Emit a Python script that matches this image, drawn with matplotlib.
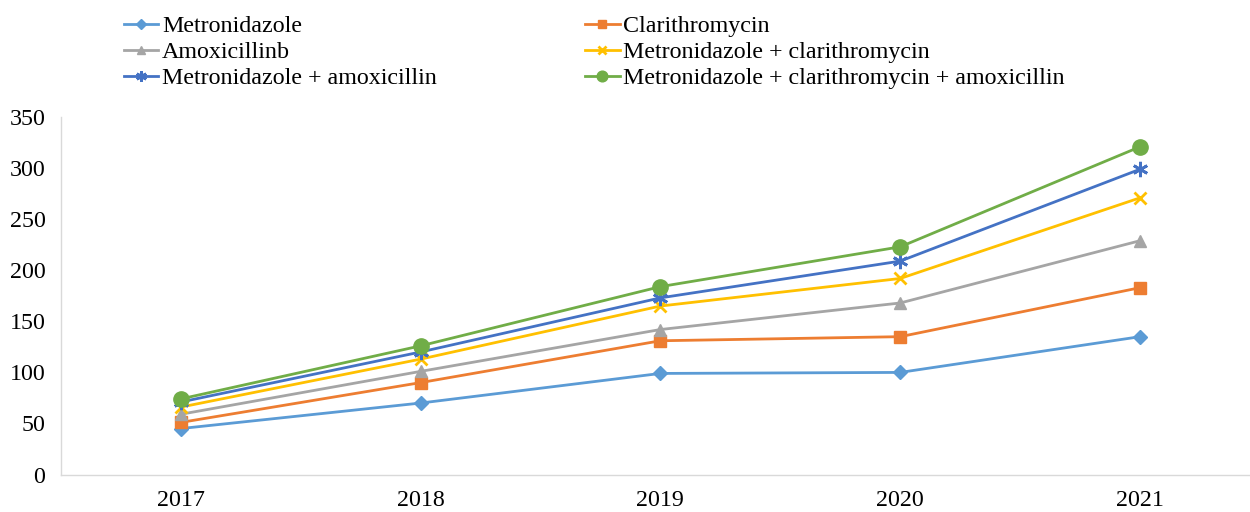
import matplotlib
matplotlib.use("Agg")
import matplotlib.pyplot as plt

years = ["2017", "2018", "2019", "2020", "2021"]
metronidazole = [45, 70, 99, 100, 135]
clarithromycin = [51, 90, 131, 135, 183]
amoxicillin = [59, 101, 142, 168, 229]
metro_clari = [66, 113, 165, 192, 271]
metro_amox = [71, 120, 173, 209, 299]
metro_clari_amox = [74, 126, 184, 223, 321]
yticks = [0, 50, 100, 150, 200, 250, 300, 350]

series = [
    ("Metronidazole", metronidazole, "#5B9BD5", "D", 7),
    ("Clarithromycin", clarithromycin, "#ED7D31", "s", 9),
    ("Amoxicillinb", amoxicillin, "#A5A5A5", "^", 9),
    ("Metronidazole + clarithromycin", metro_clari, "#FFC000", "x", 9),
    ("Metronidazole + amoxicillin", metro_amox, "#4472C4", (6, 2, 0), 11),
    ("Metronidazole + clarithromycin + amoxicillin", metro_clari_amox, "#70AD47", "o", 11),
]

plt.rcParams['font.family'] = ['Liberation Serif', 'DejaVu Serif']
FS = 17.3

fig = plt.figure(figsize=(12.5, 5.12), dpi=100)
ax = fig.add_axes([0.0486, 0.0732, 0.9594, 0.698])
x = list(range(len(years)))
handles = {}
for name, vals, color, marker, ms in series:
    mew = 2.0 if marker in ("x", (6, 2, 0)) else 1.0
    (h,) = ax.plot(x, vals, color=color, lw=2.0, marker=marker, markersize=ms,
                   markeredgewidth=mew, markerfacecolor=color, markeredgecolor=color,
                   label=name)
    handles[name] = h

ax.set_xlim(-0.5, 4.5)
ax.set_ylim(0, 350)
ax.set_xticks(x)
ax.set_xticklabels(years)
ax.set_yticks(yticks)
ax.tick_params(axis='both', length=0, labelsize=FS, colors='black')
ax.tick_params(axis='x', pad=11)
ax.tick_params(axis='y', pad=11)
for s in ["top", "right"]:
    ax.spines[s].set_visible(False)
for s in ["left", "bottom"]:
    ax.spines[s].set_color("#D9D9D9")
    ax.spines[s].set_linewidth(1.0)

order = ["Metronidazole", "Amoxicillinb", "Metronidazole + amoxicillin",
         "Clarithromycin", "Metronidazole + clarithromycin",
         "Metronidazole + clarithromycin + amoxicillin"]
fig.legend([handles[n] for n in order], order, ncol=2, loc="upper left",
           bbox_to_anchor=(0.0816, 1.012), frameon=False, fontsize=FS,
           handlelength=1.45, handletextpad=0.15, columnspacing=6.15,
           labelspacing=0.17, markerscale=0.7)

fig.savefig("out.png", dpi=100)
